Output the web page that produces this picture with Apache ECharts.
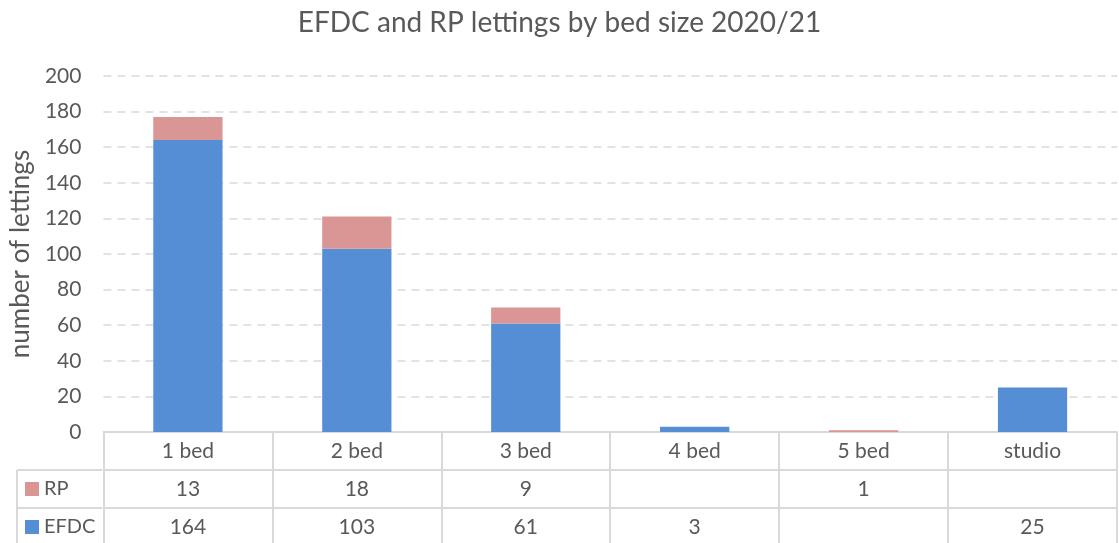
<!DOCTYPE html>
<html>
<head>
<meta charset="utf-8">
<title>EFDC and RP lettings by bed size 2020/21</title>
<script src="https://cdn.jsdelivr.net/npm/echarts@6/dist/echarts.min.js"></script>
<style>
  html, body { margin: 0; padding: 0; background: #fff; }
  #chartDom { width: 1119px; height: 543px; }
</style>
</head>
<body>
<div id="chartDom"></div>
<script>
const categories = ['1 bed', '2 bed', '3 bed', '4 bed', '5 bed', 'studio'];
const efdc = [164, 103, 61, 3, null, 25];
const rp = [13, 18, 9, null, 1, null];
const yTicks = { min: 0, max: 200, step: 20 };

const FONT = 'Lato, "Open Sans", sans-serif';
const TXT = '#595959';
const LINE = '#d9d9d9';
const BLUE = '#558ed5';
const PINK = '#d99694';
const LABEL_SIZE = 21;

const chart = echarts.init(document.getElementById('chartDom'));

// table rows under the plot, one category axis per row
const rowAxis = (values, offset) => ({
  type: 'category',
  data: categories,
  position: 'bottom',
  offset: offset,
  axisLine: { show: true, lineStyle: { color: LINE, width: 2 } },
  axisTick: { show: false },
  axisLabel: {
    interval: 0,
    margin: 9,
    fontSize: LABEL_SIZE,
    fontFamily: FONT,
    color: TXT,
    formatter: (v, i) => (values[i] == null ? '' : String(values[i]))
  }
});

// one legend per table row so each key sits in its own cell
const rowLegend = (name, top) => ({
  data: [name],
  left: 25,
  top: top,
  padding: 0,
  icon: 'rect',
  itemWidth: 14,
  itemHeight: 14,
  selectedMode: false,
  textStyle: { fontSize: 20, color: TXT, fontFamily: FONT }
});

chart.setOption({
  textStyle: { fontFamily: FONT },
  title: {
    text: 'EFDC and RP lettings by bed size 2020/21',
    left: 'center',
    top: 4,
    textStyle: { fontSize: 28, fontWeight: 'normal', color: TXT, fontFamily: FONT }
  },
  legend: [rowLegend('RP', 479), rowLegend('EFDC', 517)],
  grid: { left: 102, right: 2, top: 76, bottom: 111 },
  xAxis: [
    {
      type: 'category',
      data: categories,
      position: 'bottom',
      axisLine: { show: true, lineStyle: { color: LINE, width: 2 } },
      axisTick: { show: true, interval: 0, length: 111, lineStyle: { color: LINE, width: 2 } },
      axisLabel: { interval: 0, margin: 9, fontSize: LABEL_SIZE, fontFamily: FONT, color: TXT }
    },
    rowAxis(rp, 38),
    rowAxis(efdc, 76)
  ],
  yAxis: {
    type: 'value',
    min: yTicks.min,
    max: yTicks.max,
    interval: yTicks.step,
    name: 'number of lettings',
    nameLocation: 'middle',
    nameGap: 68,
    nameTextStyle: { fontSize: 26, color: TXT, fontFamily: FONT },
    axisLine: { show: false },
    axisTick: { show: false },
    axisLabel: { margin: 22, fontSize: LABEL_SIZE, color: TXT, fontFamily: FONT },
    splitLine: { lineStyle: { color: LINE, type: [8, 6], width: 1.5 } }
  },
  graphic: [
    { type: 'line', shape: { x1: 17, y1: 470, x2: 102, y2: 470 }, style: { stroke: LINE, lineWidth: 2 } },
    { type: 'line', shape: { x1: 17, y1: 508, x2: 102, y2: 508 }, style: { stroke: LINE, lineWidth: 2 } },
    { type: 'line', shape: { x1: 17, y1: 470, x2: 17, y2: 543 }, style: { stroke: LINE, lineWidth: 2 } }
  ],
  series: [
    {
      name: 'EFDC',
      type: 'bar',
      stack: 'total',
      data: efdc,
      barWidth: '41%',
      itemStyle: { color: BLUE },
      silent: true
    },
    {
      name: 'RP',
      type: 'bar',
      stack: 'total',
      data: rp,
      barWidth: '41%',
      itemStyle: { color: PINK },
      silent: true
    }
  ]
});
</script>
</body>
</html>
